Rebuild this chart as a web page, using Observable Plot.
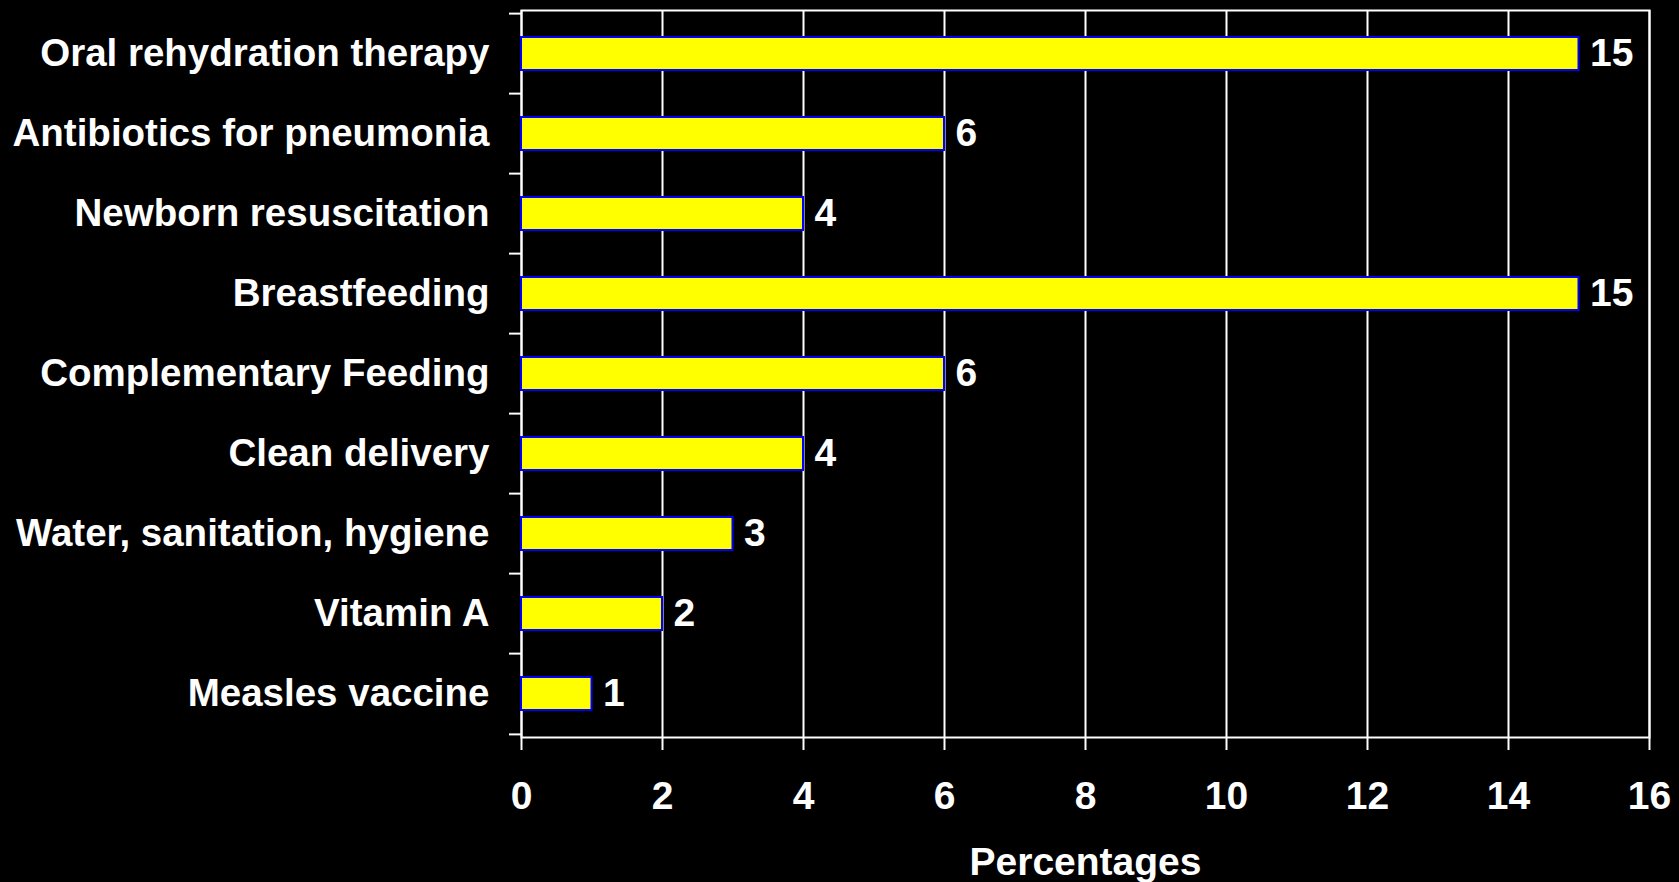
<!DOCTYPE html>
<html>
<head>
<meta charset="utf-8">
<script src="https://cdn.jsdelivr.net/npm/d3@7"></script>
<script src="https://cdn.jsdelivr.net/npm/@observablehq/plot@0.6"></script>
<style>
  html, body { margin: 0; padding: 0; background: #000; }
  #chart { width: 1679px; height: 882px; overflow: hidden; }
</style>
</head>
<body>
<div id="chart"></div>
<script>
// Interventions, top to bottom, and their share (%)
const interventions = [
  "Oral rehydration therapy",
  "Antibiotics for pneumonia",
  "Newborn resuscitation",
  "Breastfeeding",
  "Complementary Feeding",
  "Clean delivery",
  "Water, sanitation, hygiene",
  "Vitamin A",
  "Measles vaccine"
];
const percentages = [15, 6, 4, 15, 6, 4, 3, 2, 1];
const xTicks = [0, 2, 4, 6, 8, 10, 12, 14, 16];
const xLabel = "Percentages";

const rows = interventions.map((name, i) => ({name, value: percentages[i]}));

const W = 1679, H = 882;
const mt = 10, mb = 145, ml = 521, mr = 30;
const step = (H - mt - mb) / interventions.length;
const font = "'Liberation Sans', Arial, sans-serif";
const fs = 39;

const chart = Plot.plot({
  width: W,
  height: H,
  marginTop: mt,
  marginBottom: mb,
  marginLeft: ml,
  marginRight: mr,
  style: {background: "#000", color: "#fff", fontFamily: font, fontSize: fs + "px", fontWeight: "bold"},
  x: {domain: [0, 16]},
  y: {domain: interventions, paddingInner: 0.59, paddingOuter: 0.295},
  marks: [
    Plot.gridX(xTicks, {stroke: "#fff", strokeOpacity: 1, strokeWidth: 2}),
    Plot.frame({stroke: "#fff", strokeWidth: 2}),
    Plot.barX(rows, {x: "value", y: "name", fill: "#ffff00", stroke: "#0000ff", strokeWidth: 2}),
    Plot.text(rows, {x: "value", y: "name", text: d => String(d.value), dx: 11, textAnchor: "start",
      fill: "#fff", fontSize: fs, fontWeight: "bold"}),
    // category labels
    Plot.axisY({tickSize: 0, tickPadding: 32, label: null, fontSize: 38.5, fontWeight: "bold"}),
    // tick marks between categories
    Plot.axisY({text: null, tickSize: 12, stroke: "#fff", strokeWidth: 2, dy: -step / 2, label: null}),
    Plot.axisY([interventions[interventions.length - 1]], {text: null, tickSize: 12, stroke: "#fff", strokeWidth: 2, dy: step / 2, label: null}),
    Plot.axisX(xTicks, {tickSize: 13, tickPadding: 31, stroke: "#fff", strokeWidth: 2, tickFormat: d => String(d),
      label: xLabel, labelAnchor: "center", labelArrow: "none", labelOffset: 137, fontSize: fs, fontWeight: "bold"})
  ]
});
document.getElementById("chart").appendChild(chart);
</script>
</body>
</html>
